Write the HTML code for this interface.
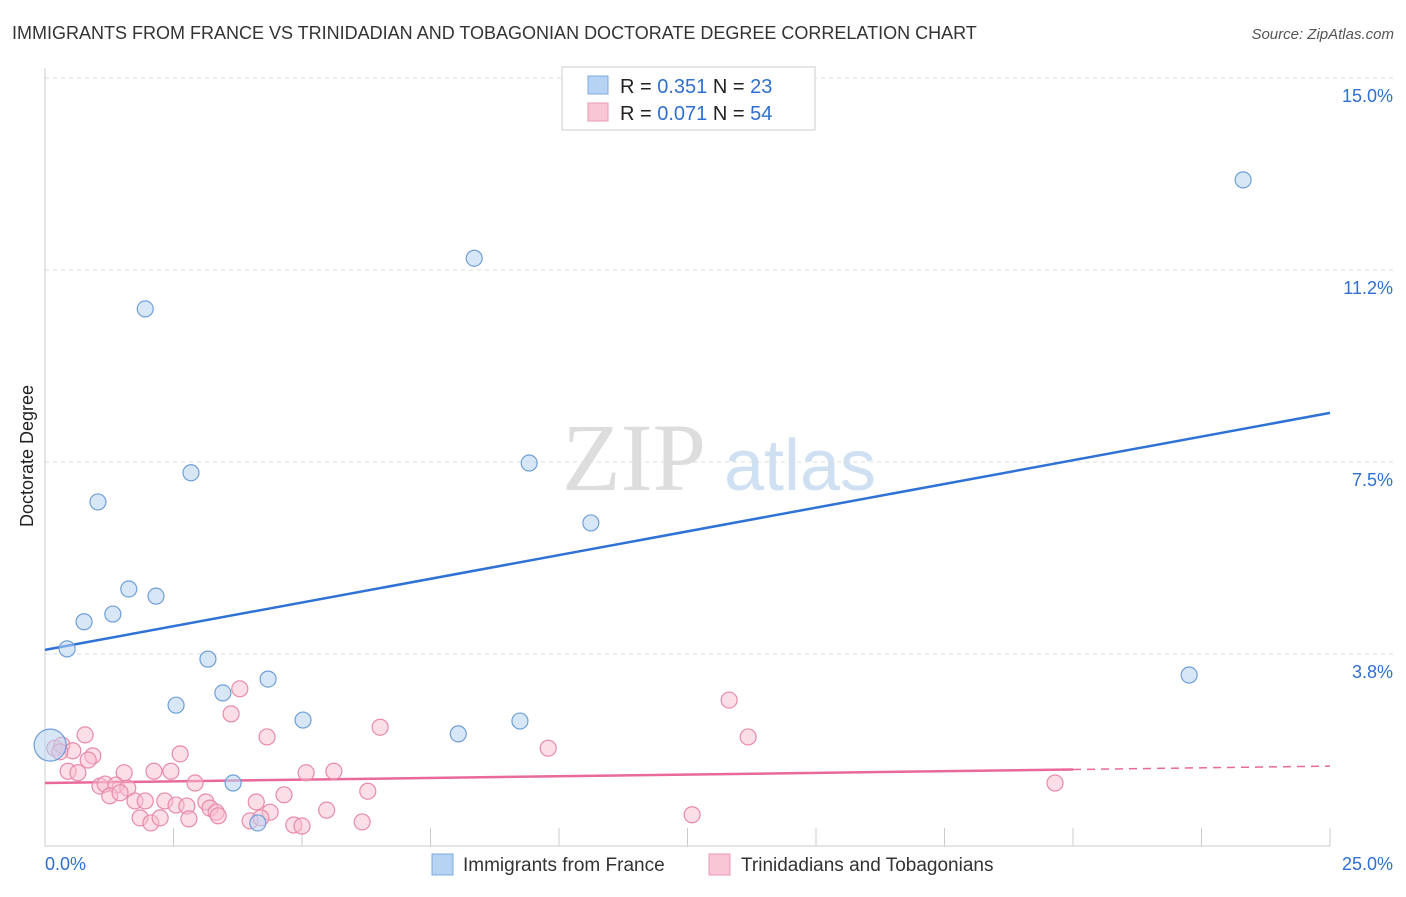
<!DOCTYPE html>
<html><head><meta charset="utf-8"><style>
body{margin:0;background:#fff;font-family:"Liberation Sans",sans-serif;}
</style></head><body>
<svg width="1406" height="892" xmlns="http://www.w3.org/2000/svg" font-family="Liberation Sans, sans-serif">
<text x="12" y="39" font-size="18" fill="#333">IMMIGRANTS FROM FRANCE VS TRINIDADIAN AND TOBAGONIAN DOCTORATE DEGREE CORRELATION CHART</text>
<text x="1394" y="39" font-size="15" fill="#555" font-style="italic" text-anchor="end">Source: ZipAtlas.com</text>
<text transform="translate(33,456) rotate(-90)" font-size="18" fill="#222" text-anchor="middle">Doctorate Degree</text>
<g>
<text x="634" y="490" font-size="96" fill="#ddd" font-family="Liberation Serif, serif" text-anchor="middle">ZIP</text>
<text x="800" y="490" font-size="72" fill="#cfe0f3" text-anchor="middle">atlas</text>
</g>
<g id="grid"></g><g id="axes"></g><g id="lines"></g><g id="pts"></g>
<g>
<rect x="562" y="67" width="253" height="63" fill="#fff" stroke="#ccc"/>
<rect x="588" y="76" width="20" height="18" fill="#b7d3f3" stroke="#7fa9dc"/>
<rect x="588" y="103" width="20" height="18" fill="#f9c6d5" stroke="#ec9ab3"/>
<text x="620" y="93" font-size="20" fill="#222">R = <tspan fill="#2f6fd0">0.351</tspan>   N = <tspan fill="#2f6fd0">23</tspan></text>
<text x="620" y="120" font-size="20" fill="#222">R = <tspan fill="#2f6fd0">0.071</tspan>   N = <tspan fill="#2f6fd0">54</tspan></text>
</g>
<g>
<rect x="432" y="854" width="21" height="21" fill="#b7d3f3" stroke="#7fa9dc"/>
<text x="463" y="871" font-size="19" fill="#333">Immigrants from France</text>
<rect x="709" y="854" width="21" height="21" fill="#f9c6d5" stroke="#ec9ab3"/>
<text x="741" y="871" font-size="19" fill="#333">Trinidadians and Tobagonians</text>
</g>
</svg>
<script>
const yTicks=[3.75,7.5,11.25,15];
const yTickLabels=["3.8%","7.5%","11.2%","15.0%"];
const xEndLabels=["0.0%","25.0%"];
const blueX=[23.31,8.35,1.95,2.84,1.03,9.42,10.62,1.63,2.16,1.32,0.76,0.43,3.17,4.34,3.46,2.55,5.02,8.04,9.24,3.66,4.14,22.26,0.1];
const blueY=[13.01,11.48,10.49,7.29,6.72,7.48,6.31,5.02,4.88,4.53,4.38,3.85,3.65,3.26,2.99,2.75,2.46,2.19,2.44,1.23,0.45,3.34,1.97];
const pinkX=[3.79,3.62,4.32,6.52,9.79,13.31,13.68,19.65,12.59,0.78,0.19,0.33,0.54,0.93,0.84,0.45,0.64,1.54,2.12,2.45,2.63,2.92,1.07,1.17,1.38,1.61,1.26,1.75,1.95,2.33,2.55,2.76,3.13,3.21,3.33,4.11,4.38,4.65,5.08,5.62,5.48,6.28,6.17,1.85,2.06,2.24,2.80,3.37,3.99,4.20,4.84,5.00,1.46,0.29];
const pinkY=[3.07,2.58,2.13,2.32,1.91,2.85,2.13,1.23,0.61,2.17,1.91,1.97,1.86,1.76,1.68,1.46,1.43,1.43,1.46,1.46,1.80,1.23,1.17,1.21,1.19,1.13,0.98,0.88,0.88,0.88,0.80,0.78,0.86,0.74,0.66,0.86,0.66,1.00,1.43,1.46,0.70,1.07,0.47,0.55,0.45,0.55,0.53,0.59,0.49,0.55,0.41,0.39,1.04,1.84];
const blueTrend=[3.83,8.46];
const pinkTrend=[1.23,1.56];
const pinkSolidEnd=20;
const NS="http://www.w3.org/2000/svg";
const X=v=>45+v/25*1285, Y=v=>846-v*51.2;
function mk(t,a,p){const e=document.createElementNS(NS,t);for(const k in a)e.setAttribute(k,a[k]);document.getElementById(p).appendChild(e);return e;}
yTicks.forEach((t,i)=>{
 const g=mk('line',{x1:45,x2:1395,y1:Y(t),y2:Y(t),stroke:'#ddd','stroke-dasharray':'4,4'},'grid');
 
 
 const l=mk('text',{x:1393,y:Y(t)+24,'font-size':18,fill:'#2f6fd0','text-anchor':'end'},'axes');
 l.textContent=yTickLabels[i];
 
 
});
const ax=mk('line',{x1:45,x2:45,y1:68,y2:846,stroke:'#ccc'},'axes');


const bx=mk('line',{x1:45,x2:1330,y1:846,y2:846,stroke:'#ccc'},'axes');


for(let i=0;i<=10;i++){const t=mk('line',{x1:X(i*2.5),x2:X(i*2.5),y1:828,y2:846,stroke:'#ccc'},'axes');
 
 }
[[0,'start',45],[25,'end',1393]].forEach((d,i)=>{const t=mk('text',{x:d[2],y:870,'font-size':18,fill:'#2f6fd0','text-anchor':d[1]},'axes');t.textContent=xEndLabels[i];
 
 });
const bl=mk('line',{x1:X(0),y1:Y(blueTrend[0]),x2:X(25),y2:Y(blueTrend[1]),stroke:'#2f72d6','stroke-width':2.5},'lines');


const pm=pinkTrend[0]+(pinkTrend[1]-pinkTrend[0])*pinkSolidEnd/25;
const pl=mk('line',{x1:X(0),y1:Y(pinkTrend[0]),x2:X(pinkSolidEnd),y2:Y(pm),stroke:'#e8699a','stroke-width':2.5},'lines');


const pd=mk('line',{x1:X(pinkSolidEnd),y1:Y(pm),x2:X(25),y2:Y(pinkTrend[1]),stroke:'#e8699a','stroke-width':1.5,'stroke-dasharray':'8,6'},'lines');


pinkX.forEach((x,i)=>{const c=mk('circle',{cx:X(x),cy:Y(pinkY[i]),r:8,fill:'rgba(249,190,208,0.5)',stroke:'#e88aab','stroke-width':1.2},'pts');
 
 });
blueX.forEach((x,i)=>{const c=mk('circle',{cx:X(x),cy:Y(blueY[i]),r:i==22?16:8,fill:'rgba(183,211,243,0.55)',stroke:'#6f9fd8','stroke-width':1.2},'pts');
 
 });
</script>
</body></html>
